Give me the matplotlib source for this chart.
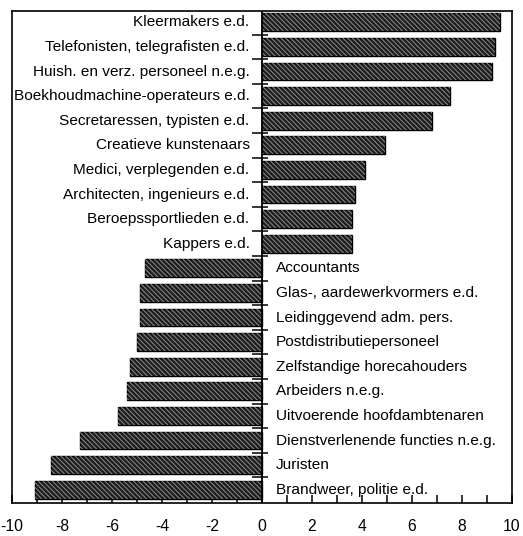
import numpy as np
import matplotlib
matplotlib.use("Agg")
import matplotlib.pyplot as plt
from matplotlib.ticker import MultipleLocator

# beroepen (van boven naar onder) en hun waarde
beroepen = [
    "Kleermakers e.d.",
    "Telefonisten, telegrafisten e.d.",
    "Huish. en verz. personeel n.e.g.",
    "Boekhoudmachine-operateurs e.d.",
    "Secretaressen, typisten e.d.",
    "Creatieve kunstenaars",
    "Medici, verplegenden e.d.",
    "Architecten, ingenieurs e.d.",
    "Beroepssportlieden e.d.",
    "Kappers e.d.",
    "Accountants",
    "Glas-, aardewerkvormers e.d.",
    "Leidinggevend adm. pers.",
    "Postdistributiepersoneel",
    "Zelfstandige horecahouders",
    "Arbeiders n.e.g.",
    "Uitvoerende hoofdambtenaren",
    "Dienstverlenende functies n.e.g.",
    "Juristen",
    "Brandweer, politie e.d.",
]
waarden = [9.5, 9.3, 9.2, 7.5, 6.8, 4.9, 4.1, 3.7, 3.6, 3.6,
           -4.7, -4.9, -4.9, -5.0, -5.3, -5.4, -5.75, -7.3, -8.45, -9.1]
xticks = [-10, -8, -6, -4, -2, 0, 2, 4, 6, 8, 10]
xtick_labels = ["-10", "-8", "-6", "-4", "-2", "0", "2", "4", "6", "8", "10"]

plt.rcParams["font.family"] = ["Liberation Sans", "DejaVu Sans"]
plt.rcParams["hatch.linewidth"] = 0.7

fig = plt.figure(figsize=(5.23, 5.36), dpi=100)
ax = fig.add_axes([0.023, 0.062, 0.956, 0.917])

y = np.arange(len(beroepen))
# donkere vulling met lichte diagonale arcering
ax.barh(y, waarden, height=0.72, color="#1e1e1e", edgecolor="black", linewidth=1.0, zorder=2)
ax.barh(y, waarden, height=0.72, color="none", edgecolor="#8c8c8c", hatch="\\" * 7,
        linewidth=0, zorder=3)

for yi, naam, w in zip(y, beroepen, waarden):
    if w >= 0:
        ax.text(-0.5, yi, naam, ha="right", va="center", fontsize=11.1)
    else:
        ax.text(0.55, yi, naam, ha="left", va="center", fontsize=11.1)

# nullijn met streepjes tussen de rijen
ax.axvline(0, color="black", linewidth=1.3, zorder=4)
ax.hlines(np.arange(0.5, len(beroepen) - 1), -0.4, 0.25, color="black", linewidth=1.1, zorder=4)

ax.set_xlim(-10, 10)
ax.set_ylim(len(beroepen) - 0.47, -0.45)
ax.set_yticks([])
ax.set_xticks(xticks)
ax.set_xticklabels(xtick_labels, fontsize=11.3)
ax.xaxis.set_minor_locator(MultipleLocator(1))
ax.tick_params(axis="x", which="both", direction="in", length=6, width=1.1, pad=12)
for s in ax.spines.values():
    s.set_linewidth(1.2)

fig.savefig("out.png", dpi=100)
